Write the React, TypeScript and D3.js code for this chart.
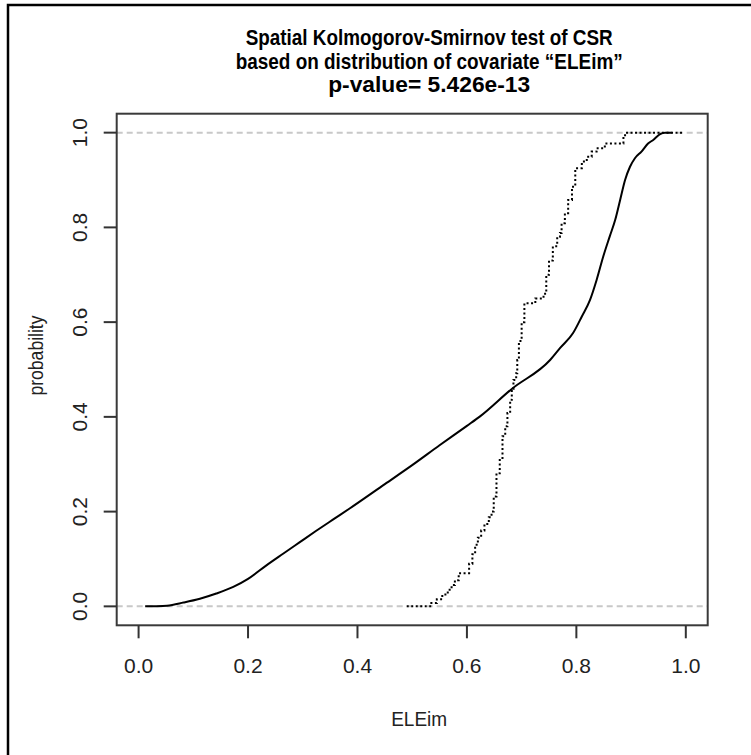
import React from "react";
import * as d3 from "d3";

const titleLines = [
  "Spatial Kolmogorov-Smirnov test of CSR",
  "based on distribution of covariate \u201CELEim\u201D",
  "p-value= 5.426e-13",
];
const titleWidths = [367, 387, 202];
const xLabel = "ELEim";
const yLabel = "probability";
const xTicks = [0, 0.2, 0.4, 0.6, 0.8, 1.0];
const yTicks = [0, 0.2, 0.4, 0.6, 0.8, 1.0];
const refLines = [0, 1];

// predicted CDF under CSR (solid)
const solidX = [0.012, 0.03, 0.052, 0.082, 0.112, 0.142, 0.173, 0.2, 0.233, 0.264, 0.294, 0.324, 0.355, 0.385, 0.45, 0.5, 0.55, 0.6, 0.624, 0.682, 0.752, 0.77, 0.794, 0.81, 0.825, 0.837, 0.849, 0.861, 0.871, 0.88, 0.889, 0.898, 0.907, 0.919, 0.931, 0.941, 0.953, 0.962, 0.974];
const solidY = [0, 0.0003, 0.0014, 0.008, 0.016, 0.027, 0.041, 0.058, 0.086, 0.111, 0.135, 0.159, 0.183, 0.206, 0.258, 0.298, 0.34, 0.381, 0.401, 0.459, 0.52, 0.545, 0.577, 0.612, 0.647, 0.689, 0.738, 0.781, 0.816, 0.858, 0.9, 0.928, 0.946, 0.96, 0.977, 0.985, 0.997, 1.0, 1.0];

// empirical CDF of data (dotted step)
const dotX = [0.49, 0.535, 0.545, 0.555, 0.565, 0.572, 0.578, 0.585, 0.604, 0.61, 0.615, 0.62, 0.626, 0.632, 0.64, 0.645, 0.649, 0.654, 0.66, 0.665, 0.67, 0.674, 0.679, 0.682, 0.685, 0.69, 0.692, 0.695, 0.7, 0.705, 0.725, 0.74, 0.745, 0.75, 0.757, 0.765, 0.77, 0.773, 0.779, 0.785, 0.792, 0.798, 0.81, 0.819, 0.828, 0.837, 0.852, 0.886, 0.889, 0.995];
const dotY = [0, 0.007, 0.015, 0.025, 0.035, 0.045, 0.055, 0.07, 0.09, 0.11, 0.13, 0.145, 0.16, 0.174, 0.188, 0.2, 0.232, 0.281, 0.313, 0.359, 0.38, 0.408, 0.436, 0.459, 0.478, 0.492, 0.52, 0.56, 0.6, 0.64, 0.65, 0.66, 0.7, 0.73, 0.76, 0.78, 0.788, 0.809, 0.83, 0.858, 0.886, 0.925, 0.939, 0.949, 0.96, 0.967, 0.977, 0.992, 1.0, 1.0];

const W = 751;
const H = 755;
const L = 116.7, R = 707.7, T = 113.7, B = 625.3;

export default function App() {
  const x = d3.scaleLinear().domain([-0.04, 1.04]).range([L, R]);
  const y = d3.scaleLinear().domain([-0.04, 1.04]).range([B, T]);
  const solid = solidX.map((v, i) => [v, solidY[i]] as [number, number]);
  const dots = dotX.map((v, i) => [v, dotY[i]] as [number, number]);
  const lineS = d3
    .line<[number, number]>()
    .x((d) => x(d[0]))
    .y((d) => y(d[1]))
    .curve(d3.curveMonotoneX);
  const lineD = d3
    .line<[number, number]>()
    .x((d) => x(d[0]))
    .y((d) => y(d[1]))
    .curve(d3.curveStepAfter);
  const font = "'Liberation Sans', Arial, sans-serif";
  const cx = (L + R) / 2;
  const cy = (T + B) / 2;
  return (
    <svg
      width={W}
      height={H}
      style={{ position: "absolute", left: 0, top: 0, background: "#fff" }}
      fontFamily={font}
    >
      <rect x={0} y={0} width={W} height={H} fill="#fff" />
      <rect x={8} y={5} width={900} height={900} fill="none" stroke="#000" strokeWidth={2.5} />
      {titleLines.map((t, i) => (
        <text
          key={i}
          x={cx + 17}
          y={45 + i * 23.5}
          textAnchor="middle"
          fontWeight="bold"
          fontSize={22}
          textLength={titleWidths[i]}
          lengthAdjust="spacingAndGlyphs"
          fill="#000"
        >
          {t}
        </text>
      ))}
      {refLines.map((v) => (
        <line
          key={v}
          x1={L}
          x2={R}
          y1={y(v)}
          y2={y(v)}
          stroke="#c8c8c8"
          strokeWidth={2}
          strokeDasharray="6,4"
        />
      ))}
      <path d={lineD(dots) || ""} fill="none" stroke="#000" strokeWidth={2} strokeDasharray="2,2.5" />
      <path d={lineS(solid) || ""} fill="none" stroke="#000" strokeWidth={2} />
      <rect x={L} y={T} width={R - L} height={B - T} fill="none" stroke="#3a3a3a" strokeWidth={2} />
      {xTicks.map((v) => (
        <g key={"x" + v}>
          <line x1={x(v)} x2={x(v)} y1={B} y2={B + 13} stroke="#333" strokeWidth={2} />
          <text x={x(v)} y={672.5} textAnchor="middle" fontSize={21} fill="#222">
            {v.toFixed(1)}
          </text>
        </g>
      ))}
      {yTicks.map((v) => (
        <g key={"y" + v}>
          <line x1={L - 13} x2={L} y1={y(v)} y2={y(v)} stroke="#333" strokeWidth={2} />
          <text
            transform={`translate(87,${y(v)}) rotate(-90)`}
            textAnchor="middle"
            fontSize={21}
            fill="#222"
          >
            {v.toFixed(1)}
          </text>
        </g>
      ))}
      <text
        x={cx + 7}
        y={726}
        textAnchor="middle"
        fontSize={21}
        textLength={56}
        lengthAdjust="spacingAndGlyphs"
        fill="#222"
      >
        {xLabel}
      </text>
      <text
        transform={`translate(43,${cy - 14}) rotate(-90)`}
        textAnchor="middle"
        fontSize={21}
        textLength={80}
        lengthAdjust="spacingAndGlyphs"
        fill="#222"
      >
        {yLabel}
      </text>
    </svg>
  );
}
